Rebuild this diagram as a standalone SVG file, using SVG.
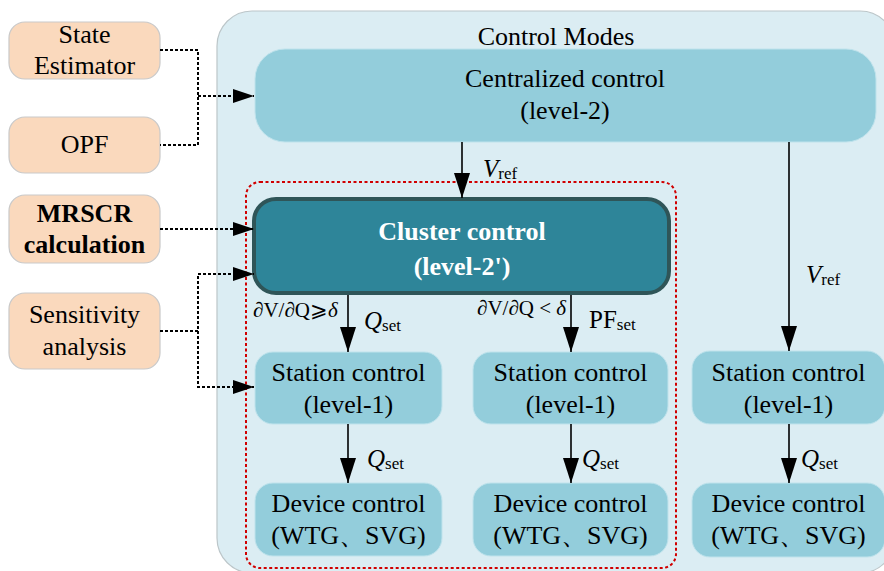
<svg xmlns="http://www.w3.org/2000/svg" width="884" height="571" viewBox="0 0 884 571" font-family="'Liberation Serif', 'DejaVu Serif', serif">
<style>
text{font-family:'Liberation Serif','DejaVu Serif',serif;fill:#000}
.t{font-size:26px;text-anchor:middle}
.tb{font-size:26px;text-anchor:middle;font-weight:bold}
.ext{fill:#fad9bd;stroke:#c9c9c9;stroke-width:1.2}
.lv{fill:#93cddb;stroke:#bfe3ec;stroke-width:1}
.lbl{font-size:21px}
.it{font-style:italic;font-size:25px}
.sub{font-size:17px}
.solid{stroke:#000;stroke-width:1.6;fill:none}
.dot{stroke:#000;stroke-width:2;stroke-dasharray:3 2;fill:none}
</style>
<defs>
<marker id="ah" markerUnits="userSpaceOnUse" markerWidth="26" markerHeight="16" refX="25" refY="8" orient="auto">
<path d="M0,0 L25,8 L0,16 z" fill="#000"/>
</marker>
<marker id="ahd" markerUnits="userSpaceOnUse" markerWidth="22" markerHeight="14" refX="21" refY="7" orient="auto">
<path d="M0,0 L21,7 L0,14 z" fill="#000"/>
</marker>
</defs>
<rect width="884" height="571" fill="#fff"/>
<g id="control-modes">
<rect x="217" y="11" width="678" height="562" rx="35" fill="#dbedf3" stroke="#bcc6c9" stroke-width="1.2"/>
<text class="t" x="556" y="45">Control Modes</text>
</g>
<rect id="cluster-region" x="246" y="182" width="430" height="386" rx="14" fill="none" stroke="#d00000" stroke-width="2" stroke-dasharray="3 2.5"/>
<g id="state-estimator">
<rect class="ext" x="9" y="22" width="151" height="57" rx="16"/>
<text class="t" x="84.5" y="43">State</text>
<text class="t" x="84.5" y="74">Estimator</text>
</g>
<g id="opf">
<rect class="ext" x="9" y="117" width="151" height="56" rx="16"/>
<text class="t" x="84.5" y="153">OPF</text>
</g>
<g id="mrscr">
<rect class="ext" x="9" y="195" width="151" height="68" rx="16"/>
<text class="tb" x="84.5" y="222">MRSCR</text>
<text class="tb" x="84.5" y="253">calculation</text>
</g>
<g id="sensitivity">
<rect class="ext" x="9" y="293" width="151" height="76" rx="16"/>
<text class="t" x="84.5" y="323">Sensitivity</text>
<text class="t" x="84.5" y="355">analysis</text>
</g>
<g id="centralized">
<rect class="lv" x="255" y="49" width="621" height="93" rx="30"/>
<text class="t" x="565" y="87">Centralized control</text>
<text class="t" x="565" y="119">(level-2)</text>
</g>
<g id="cluster">
<rect x="254" y="199" width="415" height="94" rx="22" fill="#2e8599" stroke="#2f5558" stroke-width="4"/>
<text class="tb" x="462" y="240" style="fill:#fff">Cluster control</text>
<text class="tb" x="462" y="275" style="fill:#fff">(level-2')</text>
</g>
<g id="station-1">
<rect class="lv" x="255" y="352" width="187" height="72" rx="18"/>
<text class="t" x="348.5" y="381">Station control</text>
<text class="t" x="348.5" y="413">(level-1)</text>
</g>
<g id="station-2">
<rect class="lv" x="473" y="352" width="195" height="72" rx="18"/>
<text class="t" x="570.5" y="381">Station control</text>
<text class="t" x="570.5" y="413">(level-1)</text>
</g>
<g id="station-3">
<rect class="lv" x="692" y="351" width="193" height="73" rx="18"/>
<text class="t" x="788.5" y="381">Station control</text>
<text class="t" x="788.5" y="413">(level-1)</text>
</g>
<g id="device-1">
<rect class="lv" x="255" y="483" width="187" height="73" rx="18"/>
<text class="t" x="348.5" y="512">Device control</text>
<text class="t" x="348.5" y="544">(WTG、SVG)</text>
</g>
<g id="device-2">
<rect class="lv" x="473" y="483" width="195" height="73" rx="18"/>
<text class="t" x="570.5" y="512">Device control</text>
<text class="t" x="570.5" y="544">(WTG、SVG)</text>
</g>
<g id="device-3">
<rect class="lv" x="692" y="483" width="193" height="74" rx="18"/>
<text class="t" x="788.5" y="512">Device control</text>
<text class="t" x="788.5" y="544">(WTG、SVG)</text>
</g>
<g id="connectors">
<path class="dot" d="M160,50 H198 V145 H160"/>
<path class="dot" d="M198,96 H254" marker-end="url(#ahd)"/>
<path class="dot" d="M160,229 H254" marker-end="url(#ahd)"/>
<path class="dot" d="M160,331 H198 V274 H254" marker-end="url(#ahd)"/>
<path class="dot" d="M198,331 V387 H254" marker-end="url(#ahd)"/>
<path class="solid" d="M462,142 V198" marker-end="url(#ah)"/>
<path class="solid" d="M348,295 V352" marker-end="url(#ah)"/>
<path class="solid" d="M571,295 V352" marker-end="url(#ah)"/>
<path class="solid" d="M789,142 V351" marker-end="url(#ah)"/>
<path class="solid" d="M348,424 V483" marker-end="url(#ah)"/>
<path class="solid" d="M571,424 V483" marker-end="url(#ah)"/>
<path class="solid" d="M789,424 V483" marker-end="url(#ah)"/>
</g>
<g id="labels">
<text x="483" y="177"><tspan class="it">V</tspan><tspan class="sub" dy="2">ref</tspan></text>
<text x="806" y="283"><tspan class="it">V</tspan><tspan class="sub" dy="2">ref</tspan></text>
<text class="lbl" x="253" y="317">∂V/∂Q⩾<tspan font-style="italic">δ</tspan></text>
<text class="lbl" x="477" y="315">∂V/∂Q &lt; <tspan font-style="italic">δ</tspan></text>
<text x="364" y="329"><tspan class="it">Q</tspan><tspan class="sub" dy="2">set</tspan></text>
<text x="589" y="328"><tspan style="font-size:25px">PF</tspan><tspan class="sub" dy="2">set</tspan></text>
<text x="367" y="467"><tspan class="it">Q</tspan><tspan class="sub" dy="2">set</tspan></text>
<text x="582" y="467"><tspan class="it">Q</tspan><tspan class="sub" dy="2">set</tspan></text>
<text x="801" y="467"><tspan class="it">Q</tspan><tspan class="sub" dy="2">set</tspan></text>
</g>
</svg>
